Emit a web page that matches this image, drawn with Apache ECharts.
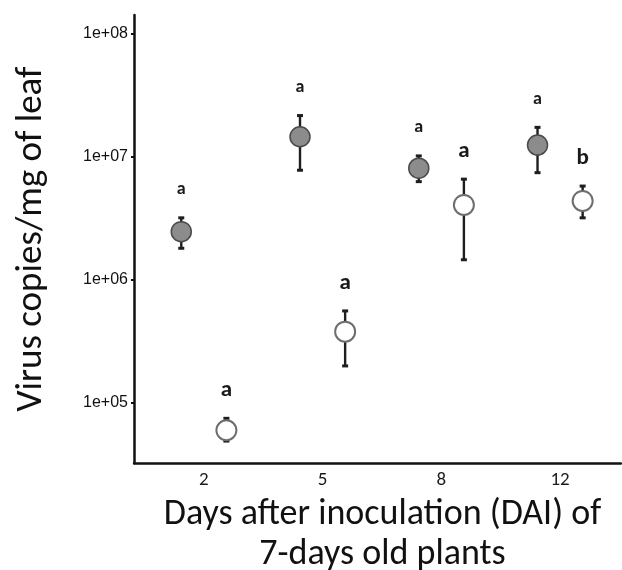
<!DOCTYPE html>
<html>
<head>
<meta charset="utf-8">
<script src="https://cdn.jsdelivr.net/npm/echarts@6/dist/echarts.min.js"></script>
<style>
  html, body { margin: 0; padding: 0; background: #fff; }
  #chart { width: 622px; height: 570px; }
</style>
</head>
<body>
<div id="chart"></div>
<script>
// days after inoculation (x categories)
var days = ['2', '5', '8', '12'];

// grey points: mean and error bar limits (virus copies/mg)
var greyMean = [2.47e6, 1.46e7, 8.1e6, 1.25e7];
var greyLow = [1.81e6, 7.8e6, 6.3e6, 7.45e6];
var greyHigh = [3.2e6, 2.17e7, 1.02e7, 1.74e7];
var greyLetters = ['a', 'a', 'a', 'a'];

// white points
var whiteMean = [6.0e4, 3.8e5, 4.07e6, 4.39e6];
var whiteLow = [4.9e4, 2.0e5, 1.46e6, 3.2e6];
var whiteHigh = [7.5e4, 5.6e5, 6.6e6, 5.8e6];
var whiteLetters = ['a', 'a', 'a', 'b'];

// y ticks
var yTicks = [1e5, 1e6, 1e7, 1e8];

var titleFont = 'Carlito, Calibri, Lato, sans-serif';
var dodge = 0.19;

function buildItems(mean, low, high, letters, shift) {
  var out = [];
  for (var i = 0; i < days.length; i++) {
    out.push([i + 1 + shift, mean[i], low[i], high[i], letters[i]]);
  }
  return out;
}

function errorBars(items, letterStyle) {
  return {
    type: 'custom',
    data: items,
    z: 2,
    renderItem: function (params, api) {
      var x = api.value(0);
      var lo = api.coord([x, api.value(2)]);
      var hi = api.coord([x, api.value(3)]);
      var cap = 3;
      var lineStyle = { stroke: '#1e1e1e', lineWidth: 2.4 };
      return {
        type: 'group',
        children: [
          { type: 'line', shape: { x1: lo[0], y1: lo[1], x2: hi[0], y2: hi[1] }, style: lineStyle },
          { type: 'line', shape: { x1: lo[0] - cap, y1: lo[1], x2: lo[0] + cap, y2: lo[1] }, style: { stroke: '#1e1e1e', lineWidth: 3 } },
          { type: 'line', shape: { x1: hi[0] - cap, y1: hi[1], x2: hi[0] + cap, y2: hi[1] }, style: { stroke: '#1e1e1e', lineWidth: 3 } },
          {
            type: 'text',
            x: hi[0], y: hi[1] - 28,
            style: Object.assign({
              text: items[params.dataIndex][4],
              align: 'center', verticalAlign: 'middle',
              fontFamily: titleFont, fill: '#1a1a1a'
            }, letterStyle)
          }
        ]
      };
    }
  };
}

var greyItems = buildItems(greyMean, greyLow, greyHigh, greyLetters, -dodge);
var whiteItems = buildItems(whiteMean, whiteLow, whiteHigh, whiteLetters, dodge);

var chart = echarts.init(document.getElementById('chart'));
var option = {
  animation: false,
  backgroundColor: '#fff',
  grid: { left: 134, right: 1, top: 15, bottom: 107, outerBoundsMode: 'none', containLabel: false },
  xAxis: {
    type: 'value',
    min: 0.412,
    max: 4.513,
    splitLine: { show: false },
    axisLine: { show: true, lineStyle: { color: '#111', width: 2.5 } },
    axisTick: { show: false },
    axisLabel: {
      customValues: [1, 2, 3, 4],
      formatter: function (v) { return days[Math.round(v) - 1]; },
      fontFamily: titleFont, fontSize: 19, color: '#1a1a1a', margin: 8
    },
    name: 'Days after inoculation (DAI) of\n7-days old plants',
    nameLocation: 'middle',
    nameGap: 26,
    nameTextStyle: { fontFamily: titleFont, fontSize: 36, color: '#111', lineHeight: 40, padding: [0, 0, 0, 10] }
  },
  yAxis: {
    type: 'log',
    logBase: 10,
    min: 32500,
    max: 1.426e8,
    splitLine: { show: false },
    axisLine: { show: true, lineStyle: { color: '#111', width: 2.5 } },
    axisTick: { show: true, customValues: yTicks, length: 3, lineStyle: { color: '#111', width: 2 } },
    axisLabel: {
      customValues: yTicks,
      formatter: function (v) {
        var p = Math.round(Math.log10(v));
        return '1e+' + (p < 10 ? '0' : '') + p;
      },
      fontFamily: 'Liberation Sans Narrow, Liberation Sans, sans-serif', fontSize: 16, color: '#111', margin: 6
    },
    name: 'Virus copies/mg of leaf',
    nameLocation: 'middle',
    nameGap: 84,
    nameTextStyle: { fontFamily: titleFont, fontSize: 37, color: '#111' }
  },
  series: [
    errorBars(greyItems, { fontSize: 18, fontWeight: 'bold' }),
    errorBars(whiteItems, { fontSize: 23, fontWeight: 'bold' }),
    {
      type: 'scatter',
      z: 3,
      data: greyItems.map(function (d) { return [d[0], d[1]]; }),
      symbol: 'circle',
      symbolSize: 20,
      itemStyle: { color: '#8c8c8c', borderColor: '#4a4a4a', borderWidth: 1.5, opacity: 1 }
    },
    {
      type: 'scatter',
      z: 3,
      data: whiteItems.map(function (d) { return [d[0], d[1]]; }),
      symbol: 'circle',
      symbolSize: 20,
      itemStyle: { color: '#ffffff', borderColor: '#6e6e6e', borderWidth: 2, opacity: 1 }
    }
  ]
};
chart.setOption(option);
</script>
</body>
</html>
